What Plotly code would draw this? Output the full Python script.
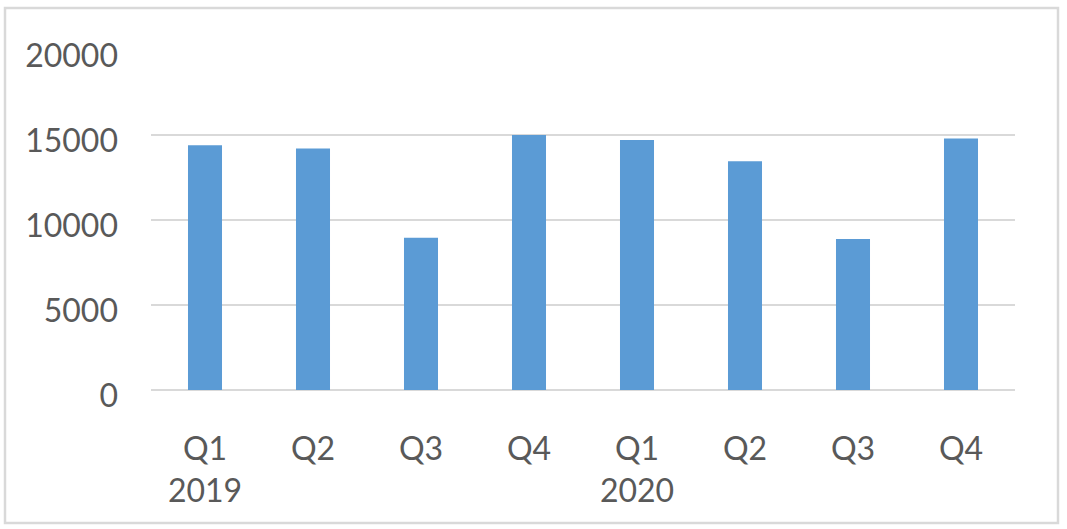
import plotly.graph_objects as go

quarters = ["Q1", "Q2", "Q3", "Q4", "Q1", "Q2", "Q3", "Q4"]
years = ["2019", "", "", "", "2020", "", "", ""]
values = [14400, 14200, 8960, 15000, 14700, 13450, 8880, 14800]
y_ticks = [0, 5000, 10000, 15000, 20000]

cats = [f"{i}_{q}" for i, q in enumerate(quarters)]
ticktext = [q + ("<br>" + y if y else "") for q, y in zip(quarters, years)]

W, H = 1067, 529
ml, mr, mt, mb = 151, 52, 50, 139
pw, ph = W - ml - mr, H - mt - mb

fig = go.Figure(go.Bar(x=cats, y=values, marker=dict(color="#5B9BD5", line=dict(width=0))))

font = dict(family="Lato, 'Open Sans', sans-serif", size=32, color="#595959")

fig.update_layout(
    width=W, height=H,
    margin=dict(l=ml, r=mr, t=mt, b=mb),
    paper_bgcolor="white", plot_bgcolor="white",
    bargap=0.685,
    showlegend=False,
    font=font,
    xaxis=dict(
        type="category", tickmode="array", tickvals=cats, ticktext=ticktext,
        showgrid=False, showline=False, zeroline=False, ticks="",
        ticklabelstandoff=37, tickfont=font,
    ),
    yaxis=dict(
        range=[0, 20000], tickvals=y_ticks, ticktext=[str(v) for v in y_ticks],
        showgrid=True, gridcolor="#D9D9D9", gridwidth=2,
        zeroline=True, zerolinecolor="#D9D9D9", zerolinewidth=2,
        showline=False, ticks="", ticklabelstandoff=32, ticklabelshift=6,
        tickfont=font,
    ),
    shapes=[dict(
        type="rect", xref="paper", yref="paper",
        x0=(5 - ml) / pw, x1=(1058 - ml) / pw,
        y0=(H - mb - 523) / ph, y1=(H - mb - 8) / ph,
        line=dict(color="#D9D9D9", width=2.5), fillcolor="rgba(0,0,0,0)", layer="below",
    )],
)

fig.write_html(
    "out.html",
    config={"displayModeBar": False},
    post_script="document.body.style.margin='0';document.body.style.overflow='hidden';",
)
